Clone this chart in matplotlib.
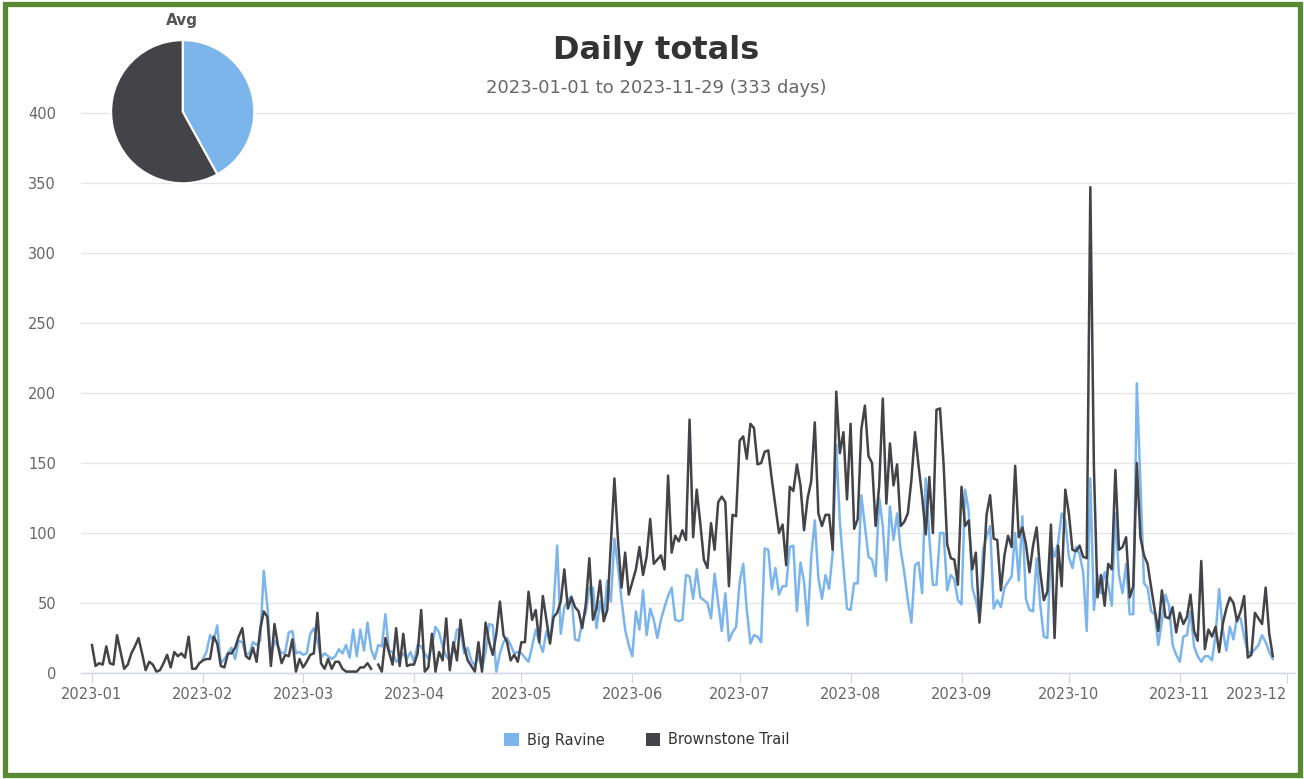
import numpy as np
import pandas as pd
import matplotlib
matplotlib.use('Agg')
import matplotlib.pyplot as plt
import matplotlib.dates as mdates
from matplotlib.patches import Patch, Rectangle

nan = np.nan

# daily counts, Brownstone Trail starts 2023-01-01
brownstone = [
    20, 5, 7, 6, 19, 7, 6, 27, 15, 3,
    6, 14, 19, 25, 14, 2, 8, 6, 1, 2,
    7, 13, 4, 15, 12, 14, 11, 26, 3, 3,
    7, 9, 10, 10, 26, 21, 5, 4, 14, 14,
    18, 26, 32, 12, 10, 18, 8, 31, 44, 40,
    5, 35, 19, 7, 13, 12, 24, 1, 10, 4,
    8, 13, 14, 43, 7, 3, 10, 3, 8, 8,
    3, 1, 1, 1, 1, 4, 4, 7, 3, nan,
    6, 1, 25, 15, 6, 32, 5, 28, 5, 6,
    6, 14, 45, 1, 4, 28, 1, 15, 9, 39,
    2, 22, 9, 38, 19, 9, 5, 1, 22, 1,
    36, 22, 13, 28, 51, 27, 22, 9, 13, 8,
    22, 22, 58, 38, 45, 22, 55, 38, 21, 40,
    43, 51, 74, 46, 54, 47, 44, 32, 49, 82,
    38, 46, 66, 37, 45, 92, 139, 95, 61, 86,
    56, 65, 74, 90, 70, 83, 110, 78, 81, 84,
    74, 141, 86, 98, 94, 102, 95, 181, 97, 131,
    107, 81, 75, 107, 88, 122, 126, 122, 62, 113,
    112, 166, 169, 153, 178, 175, 149, 150, 158, 159,
    138, 119, 100, 106, 77, 133, 130, 149, 134, 102,
    125, 137, 179, 114, 105, 113, 113, 88, 201, 157,
    172, 124, 178, 103, 110, 174, 191, 155, 150, 105,
    134, 196, 121, 164, 134, 149, 105, 108, 114, 138,
    172, 148, 126, 99, 140, 100, 188, 189, 149, 92,
    82, 81, 63, 133, 105, 109, 74, 86, 36, 69,
    113, 127, 96, 95, 59, 84, 98, 90, 148, 97,
    104, 92, 72, 91, 104, 72, 52, 58, 106, 25,
    91, 62, 131, 114, 88, 87, 91, 83, 82, 347,
    147, 54, 70, 48, 78, 74, 145, 88, 90, 97,
    54, 62, 150, 97, 84, 78, 61, 45, 30, 59,
    40, 39, 47, 29, 43, 35, 40, 56, 30, 23,
    80, 17, 31, 26, 33, 15, 35, 46, 54, 50,
    37, 44, 55, 11, 13, 43, 39, 35, 61, 28, 12,
]

# Big Ravine starts 2023-02-01
big_ravine = [
    10, 15, 27, 23, 34, 7, 10, 14, 18, 10,
    23, 22, 13, 14, 22, 20, 23, 73, 48, 11,
    23, 19, 14, 15, 29, 30, 14, 15, 13, 14,
    28, 32, 23, 11, 14, 12, 10, 12, 17, 14,
    20, 11, 31, 12, 31, 16, 36, 17, 10, 20,
    19, 42, 16, 15, 8, 10, 14, 10, 15, 8,
    20, 19, 14, 10, 19, 33, 29, 19, 12, 9,
    17, 31, 31, 14, 18, 9, 5, 12, 3, 15,
    35, 34, 1, 14, 22, 25, 20, 14, 15, 14,
    11, 8, 19, 31, 22, 15, 30, 22, 47, 91,
    28, 47, 52, 55, 24, 23, 37, 43, 61, 61,
    32, 51, 40, 66, 51, 96, 76, 52, 31, 20,
    12, 44, 31, 59, 27, 46, 38, 25, 38, 47,
    55, 61, 38, 37, 38, 70, 69, 53, 74, 54,
    52, 50, 39, 71, 50, 30, 57, 23, 29, 33,
    65, 78, 45, 21, 27, 26, 22, 89, 88, 60,
    75, 56, 62, 62, 90, 91, 44, 79, 65, 34,
    83, 109, 68, 53, 70, 60, 86, 163, 108, 76,
    46, 45, 64, 64, 127, 105, 83, 81, 69, 125,
    105, 66, 119, 95, 114, 88, 72, 52, 36, 77,
    79, 57, 139, 97, 63, 63, 100, 100, 59, 70,
    67, 52, 49, 131, 116, 61, 52, 39, 88, 97,
    105, 46, 52, 47, 61, 65, 69, 100, 66, 112,
    53, 45, 44, 82, 49, 26, 25, 93, 83, 93,
    114, 109, 83, 75, 90, 85, 72, 30, 139, 45,
    70, 57, 72, 63, 48, 114, 70, 57, 78, 42,
    42, 207, 135, 64, 61, 44, 42, 20, 37, 56,
    48, 20, 13, 8, 26, 27, 44, 19, 12, 8,
    12, 12, 9, 27, 60, 31, 16, 33, 24, 40,
    39, 26, 15, 14, 17, 20, 27, 22, 15, 10,
]

series_names = ['Big Ravine', 'Brownstone Trail']
series_colors = ['#7cb5ec', '#434348']
y_ticks = [0, 50, 100, 150, 200, 250, 300, 350, 400]

dates_bs = pd.date_range('2023-01-01', periods=len(brownstone), freq='D')
dates_br = pd.date_range('2023-02-01', periods=len(big_ravine), freq='D')
pie_values = [np.nanmean(big_ravine), np.nanmean(brownstone)]

W, H = 1304, 779
fig = plt.figure(figsize=(W / 100, H / 100), dpi=100)
plt.rcParams['font.family'] = ['DejaVu Sans']

# main axes, positioned in pixels
ax = fig.add_axes([81 / W, (H - 673) / H, (1295 - 81) / W, (673 - 43) / H])
ax.plot(dates_br, big_ravine, color=series_colors[0], lw=1.8, zorder=3)
ax.plot(dates_bs, brownstone, color=series_colors[1], lw=1.8, zorder=4)

x0 = mdates.date2num(pd.Timestamp('2023-01-01'))
ax.set_xlim(x0 - 3.07, x0 + 336.2)
ax.set_ylim(0, 450)
ax.set_yticks(y_ticks)
ax.grid(axis='y', color='#e6e6e6', lw=1)
ax.set_axisbelow(True)
for s in ['top', 'right', 'left']:
    ax.spines[s].set_visible(False)
ax.spines['bottom'].set_color('#ccd6eb')
ax.spines['bottom'].set_linewidth(1)

months = pd.date_range('2023-01-01', '2023-12-01', freq='MS')
ax.set_xticks(months)
ax.set_xticklabels([m.strftime('%Y-%m') for m in months])
ax.xaxis.get_ticklabels()[-1].set_horizontalalignment('right')
ax.tick_params(axis='x', length=7, color='#ccd6eb', labelsize=10.5, labelcolor='#666666', pad=3)
ax.tick_params(axis='y', length=0, labelsize=10.5, labelcolor='#666666', pad=18)

# titles
fig.text(656 / W, 1 - 50 / H, 'Daily totals', ha='center', va='center',
         fontsize=23, fontweight='bold', color='#333333')
fig.text(656 / W, 1 - 88 / H, '2023-01-01 to 2023-11-29 (333 days)', ha='center', va='center',
         fontsize=13, color='#666666')

# legend
handles = [Patch(facecolor=c, edgecolor='none') for c in series_colors]
fig.legend(handles, series_names, loc='center', bbox_to_anchor=(647 / W, 1 - 740 / H),
           ncol=2, frameon=False, fontsize=10.5, handlelength=1.0, handleheight=1.0,
           handletextpad=0.55, columnspacing=2.8, labelcolor='#333333')

# pie of averages
pax = fig.add_axes([(182.7 - 73) / W, 1 - (111.7 + 73) / H, 146 / W, 146 / H])
pax.pie(pie_values, colors=series_colors, startangle=90, counterclock=False,
        wedgeprops=dict(edgecolor='white', linewidth=1.5))
pax.set_xlim(-1.02, 1.02)
pax.set_ylim(-1.02, 1.02)
pax.set_aspect('equal')
pax.axis('off')
fig.text(182 / W, 1 - 20 / H, 'Avg', ha='center', va='center', fontsize=11,
         fontweight='bold', color='#555555')

# green frame
fig.patches.append(Rectangle((4.5 / W, 4 / H), (1299.5 - 4.5) / W, (775 - 4) / H,
                             transform=fig.transFigure, fill=False,
                             edgecolor='#578a32', linewidth=3.8))

plt.savefig('out.png', dpi=100)
